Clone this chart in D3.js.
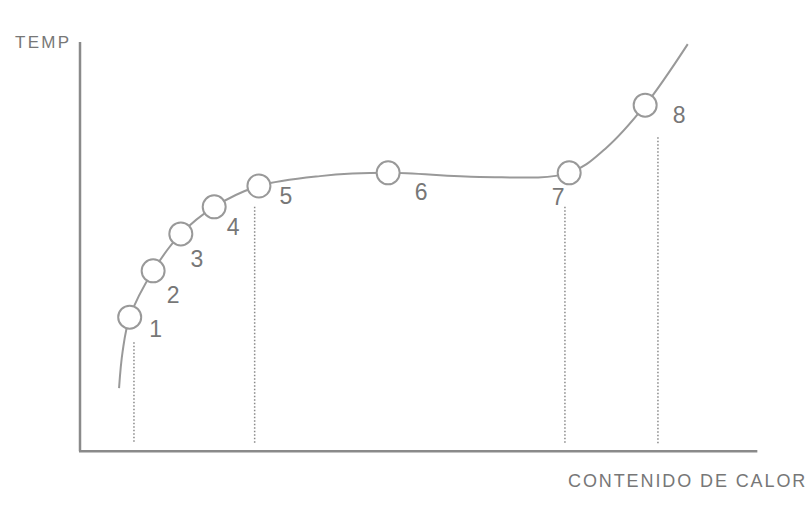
<!DOCTYPE html>
<html>
<head>
<meta charset="utf-8">
<script src="https://cdn.jsdelivr.net/npm/d3@7"></script>
<style>
  body { margin: 0; background: #fff; }
  text { font-family: "Liberation Sans", Arial, sans-serif; fill: #777; }
</style>
</head>
<body>
<svg width="811" height="511"></svg>
<script>
// heating curve: heat content (x) vs temperature (y), arbitrary units 0-100
var pointLabels = ["1", "2", "3", "4", "5", "6", "7", "8"];
var pointHeat = [7.0, 10.3, 14.2, 18.9, 25.2, 43.4, 68.9, 79.6];
var pointTemp = [32.4, 43.7, 52.7, 59.3, 64.4, 67.6, 67.6, 84.1];

// extra points the smooth line passes through
var curveHeat = [5.5, 6.0, 7.0, 10.3, 14.2, 18.9, 25.2, 33.8, 43.4, 56.3, 68.9, 74.0, 79.6, 85.6];
var curveTemp = [15.1, 24.0, 32.4, 43.7, 52.7, 59.3, 64.4, 66.8, 67.6, 66.6, 67.6, 73.5, 84.1, 99.0];

// dotted drop lines
var dropHeat = [7.6, 24.6, 68.3, 81.4];
var dropTop = [26.3, 59.3, 59.3, 76.3];
var dropBottom = 1.5;

var svg = d3.select("svg");

var xScale = d3.scaleLinear().domain([0, 100]).range([80, 790]);
var yScale = d3.scaleLinear().domain([0, 100]).range([450, 40]);

// axes (plain lines, no ticks)
svg.append("line")
    .attr("x1", xScale(0)).attr("x2", xScale(0))
    .attr("y1", yScale(99.5)).attr("y2", yScale(-0.3))
    .attr("stroke", "#8a8a8a").attr("stroke-width", 2.5);
svg.append("line")
    .attr("x1", xScale(0) - 1).attr("x2", xScale(95.4))
    .attr("y1", yScale(-0.3)).attr("y2", yScale(-0.3))
    .attr("stroke", "#8a8a8a").attr("stroke-width", 2.5);

svg.append("text")
    .attr("x", 15).attr("y", 48)
    .style("font-size", "17px")
    .style("letter-spacing", "2.3px")
    .text("TEMP");
svg.append("text")
    .attr("x", 568).attr("y", 487)
    .style("font-size", "18px")
    .style("letter-spacing", "1.9px")
    .text("CONTENIDO DE CALOR");

// dotted lines
svg.append("g").selectAll("line")
    .data(dropHeat)
    .enter()
    .append("line")
    .attr("x1", d => xScale(d)).attr("x2", d => xScale(d))
    .attr("y1", (d, i) => yScale(dropTop[i]))
    .attr("y2", yScale(dropBottom))
    .attr("stroke", "#888")
    .attr("stroke-width", 1.5)
    .attr("stroke-dasharray", "1.5,2");

// curve
var curveData = curveHeat.map((h, i) => [h, curveTemp[i]]);
var line = d3.line()
    .x(d => xScale(d[0]))
    .y(d => yScale(d[1]))
    .curve(d3.curveCatmullRom.alpha(0.5));
svg.append("path")
    .attr("d", line(curveData))
    .attr("fill", "none")
    .attr("stroke", "#999")
    .attr("stroke-width", 2);

// circles
svg.append("g").selectAll("circle")
    .data(pointHeat)
    .enter()
    .append("circle")
    .attr("cx", d => xScale(d))
    .attr("cy", (d, i) => yScale(pointTemp[i]))
    .attr("r", 11.5)
    .attr("fill", "#fff")
    .attr("stroke", "#999")
    .attr("stroke-width", 2);

// number labels
var labelDx = [26, 20, 16, 19, 27, 33, -11, 34];
var labelDy = [20, 32, 33, 28, 18, 27, 32, 18];
svg.append("g").selectAll("text")
    .data(pointLabels)
    .enter()
    .append("text")
    .attr("x", (d, i) => xScale(pointHeat[i]) + labelDx[i])
    .attr("y", (d, i) => yScale(pointTemp[i]) + labelDy[i])
    .attr("text-anchor", "middle")
    .style("font-size", "23px")
    .text(d => d);
</script>
</body>
</html>
